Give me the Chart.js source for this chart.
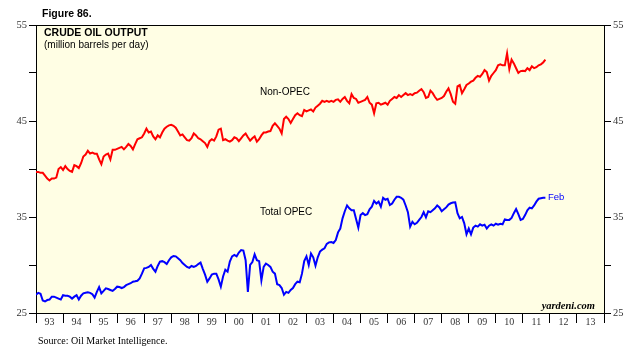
<!DOCTYPE html>
<html>
<head>
<meta charset="utf-8">
<script src="https://cdn.jsdelivr.net/npm/chart.js@4/dist/chart.umd.min.js"></script>
<style>
  body { margin: 0; background: #fff; }
  #wrap { position: relative; width: 641px; height: 362px; }
  .lbl { position: absolute; white-space: nowrap; line-height: 1; font-family: "Liberation Sans", Arial, sans-serif; color: #000; }
  .serif { font-family: "Liberation Serif", "Times New Roman", serif; }
</style>
</head>
<body>
<div id="wrap">
  <canvas id="myChart" width="641" height="362"></canvas>
  <div class="lbl" style="left:42px;top:8px;font-size:10.5px;font-weight:bold">Figure 86.</div>
  <div class="lbl" style="left:44px;top:27px;font-size:10.5px;font-weight:bold">CRUDE OIL OUTPUT</div>
  <div class="lbl" style="left:44px;top:40px;font-size:10px">(million barrels per day)</div>
  <div class="lbl" style="left:260px;top:87px;font-size:10px">Non-OPEC</div>
  <div class="lbl" style="left:260px;top:207px;font-size:10px">Total OPEC</div>
  <div class="lbl" style="left:548px;top:192px;font-size:9.5px;color:#0000ff">Feb</div>
  <div class="lbl serif" style="right:46px;top:301px;font-size:10.5px;font-weight:bold;font-style:italic">yardeni.com</div>
  <div class="lbl serif" style="left:38px;top:336px;font-size:10px">Source: Oil Market Intelligence.</div>
</div>
<script>
// monthly, starting Jan 1993 (x = months since start)
var nonOpec = [
  39.7,39.7,39.6,39.6,39.3,39.0,38.8,39.0,39.0,39.1,40.0,40.2,
  39.9,40.3,40.0,39.8,39.7,40.4,40.3,40.1,40.6,41.3,41.5,41.9,
  41.6,41.7,41.6,41.6,41.0,40.5,41.3,41.5,41.6,41.0,42.0,42.0,
  42.1,42.2,42.3,42.05,42.3,42.6,42.4,42.05,42.6,43.1,43.2,43.3,
  43.7,44.2,43.8,43.9,43.4,43.1,43.5,43.3,43.8,44.2,44.4,44.55,
  44.6,44.5,44.3,43.9,43.5,43.6,43.3,43.0,42.95,43.2,43.7,43.5,
  43.2,43.1,42.9,42.7,42.3,42.9,43.1,42.95,43.4,44.1,44.2,43.0,
  43.1,42.95,42.85,43.0,43.3,43.2,42.9,43.2,43.5,43.7,43.3,42.95,
  43.2,43.4,42.85,43.1,43.5,43.8,43.8,43.9,43.95,44.5,44.76,44.5,
  44.2,43.7,45.2,45.45,45.2,44.8,45.2,45.6,45.8,45.6,45.5,46.15,
  46.0,46.1,46.2,46.0,46.4,46.6,46.8,47.1,47.0,47.1,47.0,47.1,
  47.0,47.2,47.26,47.0,47.3,47.5,47.1,46.85,47.8,47.4,47.3,46.9,
  47.0,47.1,47.2,47.5,46.9,46.7,45.8,46.85,46.9,46.7,46.8,46.9,
  46.7,47.1,47.3,47.5,47.4,47.7,47.5,47.7,47.9,47.7,47.8,47.7,
  47.9,47.95,48.16,48.33,48.0,47.4,47.5,48.16,47.9,47.5,47.2,47.3,
  47.4,47.6,48.05,48.4,47.8,47.0,46.8,48.6,48.75,47.9,48.3,48.75,
  48.9,49.1,49.2,49.5,49.7,49.6,49.9,50.3,50.1,49.2,49.7,50.0,
  50.3,50.8,50.9,50.8,50.8,52.05,50.4,51.4,51.0,50.5,50.0,50.2,
  50.24,50.2,50.5,50.3,50.7,50.5,50.6,50.8,50.9,51.1,51.4
];
var totalOpec = [
  26.9,27.1,27.0,26.3,26.2,26.35,26.4,26.7,26.7,26.6,26.5,26.4,
  26.85,26.8,26.8,26.7,26.5,26.7,26.85,26.4,26.8,27.05,27.1,27.15,
  27.1,26.95,26.6,27.2,27.7,27.05,27.3,27.57,27.5,27.4,27.3,27.5,
  27.74,27.7,27.6,27.7,27.9,28.0,28.1,28.26,28.3,28.36,28.6,29.1,
  29.65,29.7,29.8,30.0,29.6,29.3,29.9,30.35,30.4,30.3,30.1,30.5,
  30.8,30.94,30.9,30.7,30.5,30.2,30.0,29.8,29.7,29.9,29.8,29.9,
  30.1,30.25,29.6,29.0,28.26,28.6,29.0,29.1,29.1,28.5,27.74,28.8,
  29.5,29.3,30.35,30.9,31.04,30.9,31.3,31.56,31.5,30.5,27.2,30.0,
  30.3,31.1,30.5,30.4,28.4,29.8,30.15,30.0,29.8,29.3,29.1,28.0,
  27.9,27.6,26.9,27.2,27.1,27.4,27.6,28.0,28.26,28.2,29.1,30.4,
  30.9,30.0,31.2,30.8,29.93,30.8,31.4,31.6,31.74,32.2,32.36,32.4,
  32.3,32.6,33.4,33.8,34.86,35.6,36.2,35.9,35.7,35.7,34.8,33.9,
  35.2,35.4,35.2,35.3,35.8,36.07,36.67,36.4,36.6,36.07,37.0,36.8,
  36.9,36.25,36.4,36.8,37.1,37.1,37.0,36.8,36.2,35.5,34.0,34.5,
  34.24,34.4,34.7,35.0,35.5,34.97,35.6,35.5,35.7,35.9,36.2,36.0,
  35.6,35.8,36.0,36.3,36.43,36.5,36.53,35.4,34.86,35.0,34.34,33.2,
  33.8,33.2,33.9,34.1,34.0,34.24,34.1,34.2,33.8,34.1,34.24,34.1,
  34.3,34.2,34.3,34.24,34.76,34.7,34.7,34.9,35.4,35.83,35.3,34.7,
  34.8,35.2,35.7,35.97,35.9,36.2,36.6,36.9,36.95,37.0,37.0
];
var yearLabels = ['93','94','95','96','97','98','99','00','01','02','03','04','05','06','07','08','09','10','11','12','13'];
var yMin = 25, yMax = 55;

function toPoints(arr) {
  return arr.map(function(v, i) { return { x: i, y: v }; });
}

var plotBox = {
  id: 'plotBox',
  beforeDraw: function(chart) {
    var a = chart.chartArea, ctx = chart.ctx;
    ctx.save();
    ctx.fillStyle = '#FFFEE4';
    ctx.fillRect(a.left, a.top, a.right - a.left, a.bottom - a.top);
    ctx.restore();
  },
  afterDraw: function(chart) {
    var a = chart.chartArea, ctx = chart.ctx;
    ctx.save();
    ctx.strokeStyle = '#000';
    ctx.lineWidth = 1;
    ctx.beginPath();
    ctx.moveTo(a.left, a.top + 0.5);
    ctx.lineTo(a.right, a.top + 0.5);
    ctx.stroke();
    ctx.restore();
  }
};

function yAxis(pos, w) {
  return {
    position: pos,
    min: yMin,
    max: yMax,
    afterBuildTicks: function(axis) {
      var t = [];
      for (var v = yMin; v <= yMax; v += 5) t.push({ value: v });
      axis.ticks = t;
    },
    ticks: {
      callback: function(v) { return v % 10 === 5 ? v : ''; },
      font: { family: 'Liberation Serif', size: 10.5 },
      color: '#333',
      padding: 2
    },
    grid: { drawOnChartArea: false, tickLength: 7, tickColor: '#000' },
    border: { color: '#000' },
    afterFit: function(s) { s.width = w; }
  };
}

var ctx = document.getElementById('myChart');
var myChart = new Chart(ctx, {
  type: 'line',
  data: {
    datasets: [{
      data: toPoints(nonOpec),
      borderColor: '#ff0000',
      borderWidth: 2,
      pointRadius: 0,
      tension: 0
    }, {
      data: toPoints(totalOpec),
      borderColor: '#0000ff',
      borderWidth: 2,
      pointRadius: 0,
      tension: 0
    }]
  },
  options: {
    responsive: false,
    animation: false,
    layout: { padding: { top: 25, left: 0, right: 0, bottom: 0 } },
    plugins: { legend: { display: false }, tooltip: { enabled: false } },
    scales: {
      x: {
        type: 'linear',
        min: 0,
        max: yearLabels.length * 12,
        afterBuildTicks: function(axis) {
          var t = [];
          for (var m = 0; m <= yearLabels.length * 12; m += 6) t.push({ value: m });
          axis.ticks = t;
        },
        ticks: {
          autoSkip: false,
          maxRotation: 0,
          padding: -7,
          font: { family: 'Liberation Serif', size: 10 },
          color: '#333',
          callback: function(v) { return v % 12 === 6 ? yearLabels[(v - 6) / 12] : ''; }
        },
        grid: {
          drawOnChartArea: false,
          tickLength: 10,
          tickColor: function(c) { return c.tick && c.tick.value % 12 === 0 ? '#000' : 'rgba(0,0,0,0)'; }
        },
        border: { color: '#000' },
        afterFit: function(s) { s.height = 49; }
      },
      y: yAxis('left', 36),
      y2: yAxis('right', 37)
    }
  },
  plugins: [plotBox]
});
</script>
</body>
</html>
